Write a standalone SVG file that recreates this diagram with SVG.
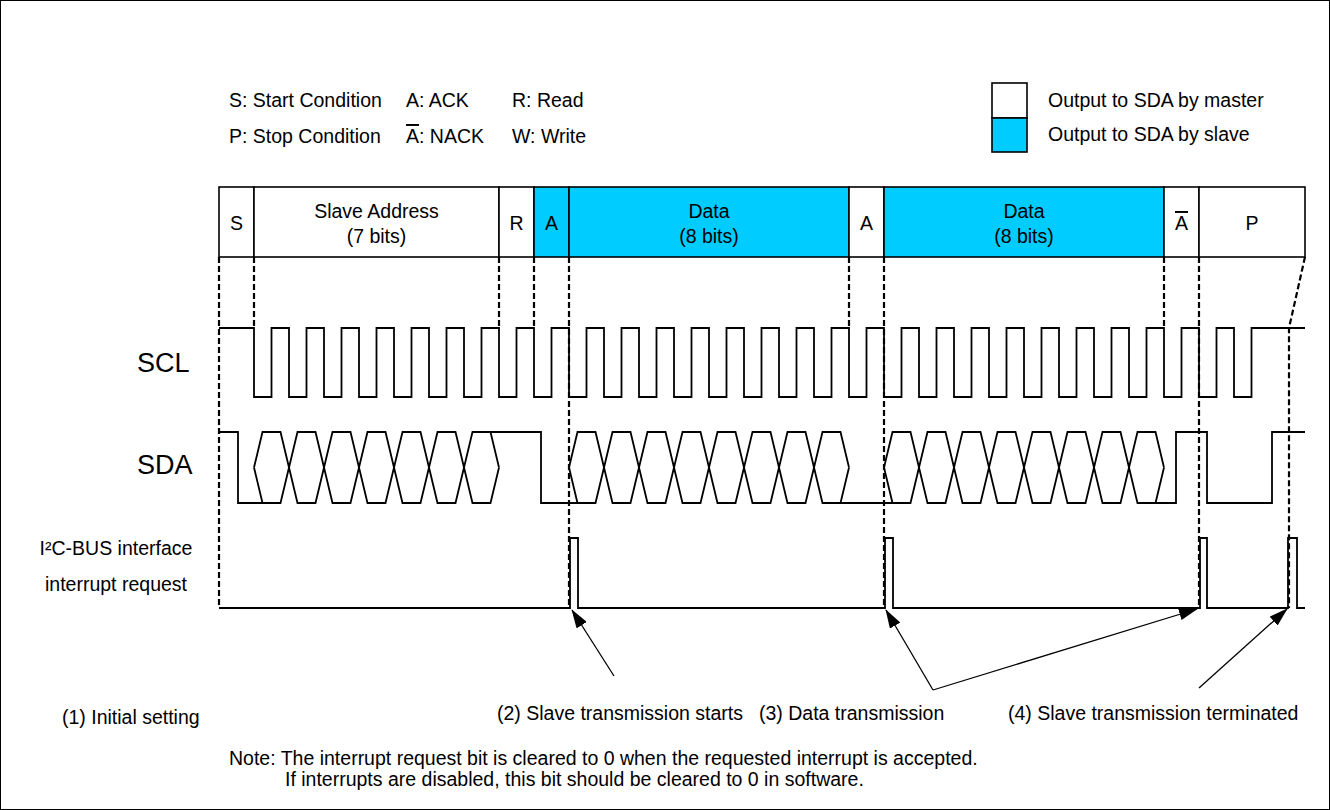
<svg xmlns="http://www.w3.org/2000/svg" width="1330" height="810" viewBox="0 0 1330 810">
<defs>
<style>
text{font-family:"Liberation Sans",Arial,sans-serif;font-size:19.5px;fill:#000}
.c{text-anchor:middle}
.big{font-size:27px}
.box{stroke:#000;stroke-width:1.6}
.m{fill:#fff}
.s{fill:#00CCFF}
.w{fill:none;stroke:#000;stroke-width:1.8;stroke-linejoin:miter}
.d{fill:none;stroke:#000;stroke-width:2.2;stroke-dasharray:6 3}
.a{fill:none;stroke:#000;stroke-width:1.3}
.ov{text-decoration:overline}
</style>
<marker id="ah" markerWidth="19" markerHeight="12" refX="18" refY="6" orient="auto" markerUnits="userSpaceOnUse">
<path d="M0,0 L19,6 L0,12 Z" fill="#000"/>
</marker>
</defs>
<rect x="0.5" y="0.5" width="1329" height="809" fill="#fff" stroke="#000" stroke-width="1"/>

<g id="legend-abbrev">
<text x="229" y="107">S: Start Condition</text>
<text x="406" y="107">A: ACK</text>
<text x="512" y="107">R: Read</text>
<text x="229" y="143">P: Stop Condition</text>
<text x="406" y="143"><tspan class="ov">A</tspan>: NACK</text>
<text x="512" y="143">W: Write</text>
</g>
<g id="legend-colors">
<rect class="box m" x="992" y="83" width="35" height="35"/>
<rect class="box s" x="992" y="118" width="35" height="34"/>
<text x="1048" y="107">Output to SDA by master</text>
<text x="1048" y="141">Output to SDA by slave</text>
</g>

<g id="frame-S"><rect class="box m" x="219" y="187" width="35" height="70"/><text class="c" x="236.5" y="230">S</text></g>
<g id="frame-addr"><rect class="box m" x="254" y="187" width="245" height="70"/><text class="c" x="376.5" y="218">Slave Address</text><text class="c" x="376.5" y="243">(7 bits)</text></g>
<g id="frame-R"><rect class="box m" x="499" y="187" width="35" height="70"/><text class="c" x="516.5" y="230">R</text></g>
<g id="frame-A1"><rect class="box s" x="534" y="187" width="35" height="70"/><text class="c" x="551.5" y="230">A</text></g>
<g id="frame-data1"><rect class="box s" x="569" y="187" width="280" height="70"/><text class="c" x="709" y="218">Data</text><text class="c" x="709" y="243">(8 bits)</text></g>
<g id="frame-A2"><rect class="box m" x="849" y="187" width="35" height="70"/><text class="c" x="866.5" y="230">A</text></g>
<g id="frame-data2"><rect class="box s" x="884" y="187" width="280" height="70"/><text class="c" x="1024" y="218">Data</text><text class="c" x="1024" y="243">(8 bits)</text></g>
<g id="frame-NA"><rect class="box m" x="1164" y="187" width="35" height="70"/><text class="c ov" x="1181.5" y="230">A</text></g>
<g id="frame-P"><rect class="box m" x="1199" y="187" width="106" height="70"/><text class="c" x="1252" y="230">P</text></g>

<g id="signal-labels">
<text class="big" x="137" y="372">SCL</text>
<text class="big" x="137" y="474">SDA</text>
<text class="c" x="116" y="555">I²C-BUS interface</text>
<text class="c" x="116" y="591">interrupt request</text>
</g>

<g id="connectors">
<path class="d" d="M219,257 V608 M569,257 V608 M884,257 V608 M1199,257 V608 M254,257 V326 M499,257 V326 M534,257 V326 M849,257 V326 M1164,257 V326 M1305,257 L1289,328 V608"/>
<path class="a" marker-end="url(#ah)" d="M614,676 L572,610"/>
<path class="a" marker-end="url(#ah)" d="M933,690 L886,610"/>
<path class="a" marker-end="url(#ah)" d="M933,690 L1197,609"/>
<path class="a" marker-end="url(#ah)" d="M1199,688 L1287,609"/>
</g>

<g id="SCL">
<path class="w" d="M219,328 H254 v69 h17.5 v-69 h17.5 v69 h17.5 v-69 h17.5 v69 h17.5 v-69 h17.5 v69 h17.5 v-69 h17.5 v69 h17.5 v-69 h17.5 v69 h17.5 v-69 h17.5 v69 h17.5 v-69 h17.5 v69 h17.5 v-69 h17.5 v69 h17.5 v-69 h17.5 v69 h17.5 v-69 h17.5 v69 h17.5 v-69 h17.5 v69 h17.5 v-69 h17.5 v69 h17.5 v-69 h17.5 v69 h17.5 v-69 h17.5 v69 h17.5 v-69 h17.5 v69 h17.5 v-69 h17.5 v69 h17.5 v-69 h17.5 v69 h17.5 v-69 h17.5 v69 h17.5 v-69 h17.5 v69 h17.5 v-69 h17.5 v69 h17.5 v-69 h17.5 v69 h17.5 v-69 h17.5 v69 h17.5 v-69 h17.5 v69 h17.5 v-69 h17.5 v69 h17.5 v-69 h17.5 v69 h17.5 v-69 h17.5 v69 h17.5 v-69 h17.5 v69 h17.5 v-69 h17.5 v69 h17.5 v-69 H1305"/>
</g>

<g id="SDA">
<path class="w" d="M219,432 H238 V503 H262.5"/>
<path class="w" d="M254,467.5 L262.5,432 H280.5 L297.5,503 H315.5 L332.5,432 H350.5 L367.5,503 H385.5 L402.5,432 H420.5 L437.5,503 H455.5 L472.5,432 H490.5 L499,467.5"/>
<path class="w" d="M254,467.5 L262.5,503 H280.5 L297.5,432 H315.5 L332.5,503 H350.5 L367.5,432 H385.5 L402.5,503 H420.5 L437.5,432 H455.5 L472.5,503 H490.5 L499,467.5"/>
<path class="w" d="M490.5,432 H541 V503 H577.5"/>
<path class="w" d="M569,467.5 L577.5,432 H595.5 L612.5,503 H630.5 L647.5,432 H665.5 L682.5,503 H700.5 L717.5,432 H735.5 L752.5,503 H770.5 L787.5,432 H805.5 L822.5,503 H840.5 L849,467.5"/>
<path class="w" d="M569,467.5 L577.5,503 H595.5 L612.5,432 H630.5 L647.5,503 H665.5 L682.5,432 H700.5 L717.5,503 H735.5 L752.5,432 H770.5 L787.5,503 H805.5 L822.5,432 H840.5 L849,467.5"/>
<path class="w" d="M840.5,503 H892.5"/>
<path class="w" d="M884,467.5 L892.5,432 H910.5 L927.5,503 H945.5 L962.5,432 H980.5 L997.5,503 H1015.5 L1032.5,432 H1050.5 L1067.5,503 H1085.5 L1102.5,432 H1120.5 L1137.5,503 H1155.5 L1164,467.5"/>
<path class="w" d="M884,467.5 L892.5,503 H910.5 L927.5,432 H945.5 L962.5,503 H980.5 L997.5,432 H1015.5 L1032.5,503 H1050.5 L1067.5,432 H1085.5 L1102.5,503 H1120.5 L1137.5,432 H1155.5 L1164,467.5"/>
<path class="w" d="M1155.5,503 H1176 V432 H1207 V503 H1272 V432 H1305"/>
</g>

<g id="IRQ">
<path class="w" d="M219,608 H570 V538 H578 V608 H885 V538 H893 V608 H1200 V538 H1207 V608 H1288 V538 H1297 V608 H1305"/>
</g>

<g id="step-labels">
<text x="62" y="724">(1) Initial setting</text>
<text x="497" y="720">(2) Slave transmission starts</text>
<text x="759" y="720">(3) Data transmission</text>
<text x="1008" y="720">(4) Slave transmission terminated</text>
</g>
<g id="note">
<text x="229" y="765">Note: The interrupt request bit is cleared to 0 when the requested interrupt is accepted.</text>
<text x="285" y="786">If interrupts are disabled, this bit should be cleared to 0 in software.</text>
</g>
</svg>
